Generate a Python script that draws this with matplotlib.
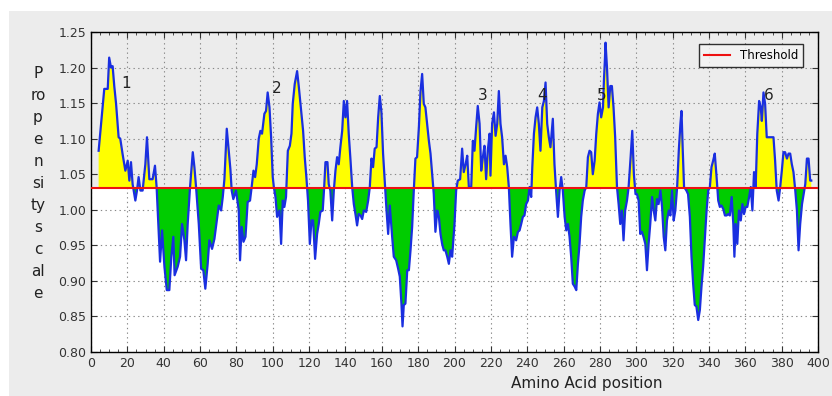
import numpy as np
import matplotlib
matplotlib.use("Agg")
import matplotlib.pyplot as plt
from matplotlib.patches import Rectangle
from matplotlib.ticker import MultipleLocator

position = [4.2, 5.5, 7.3, 9.2, 10, 11, 11.9, 12.8, 13.8, 15.2, 16.1, 17.4, 18.9, 20.2, 21.1, 22, 22.9, 24.4,
            25.3, 26.2, 27.2, 28.4, 29.9, 30.8, 32.1, 33.9, 35.2, 36.1, 37.2, 38, 39.1, 40.4, 41.7, 43.1,
            44.2, 45.3, 46, 47.7, 49, 50.1, 51.4, 52.3, 53.2, 54.5, 56, 56.9, 57.8, 59.3, 60.6, 61.8, 62.9,
            64.2, 65.1, 66.6, 67.9, 69.2, 70.3, 71.6, 72.5, 73.4, 74.7, 75.8, 76.7, 77.4, 78.3, 79.8, 81.3,
            82, 82.9, 83.9, 85, 86.2, 87.5, 88.4, 89.4, 90.3, 91.2, 92.3, 93.2, 94.1, 95.4, 96.3, 97.2, 98.2,
            99.1, 100, 100.6, 101.5, 102.4, 103.7, 104.6, 105.5, 106.4, 107.3, 108.3, 109.4, 110.3, 111,
            112.1, 113.4, 114.3, 115.6, 116.7, 117.6, 118.5, 119.4, 120.4, 121.3, 122.2, 123.3, 124.4, 125.3,
            126.2, 127.5, 128.3, 129, 130.1, 130.8, 131.7, 132.7, 133.6, 134.5, 135.4, 136.3, 137.2, 138.2,
            139.1, 140, 140.9, 141.8, 142.8, 143.7, 144.6, 145.5, 146.4, 147.3, 148.3, 149.2, 150.1, 151.4,
            152.5, 153.4, 154.3, 155.2, 156.1, 157.1, 158, 158.9, 159.8, 160.7, 161.7, 162.6, 163.5, 164.4,
            165.7, 166.6, 167.9, 169, 169.9, 170.8, 171.4, 172.1, 173, 174, 174.9, 175.8, 176.7, 177.6,
            178.5, 179.4, 180.4, 181.3, 182.2, 183.1, 184, 184.9, 185.9, 186.8, 187.7, 188.6, 189.5, 190.5,
            191.4, 192.3, 193.2, 194.1, 195, 196, 196.9, 197.8, 198.7, 200, 200.9, 201.8, 203.1, 204.2,
            205.1, 206.1, 207, 207.9, 209.2, 210.1, 211, 211.9, 212.8, 213.8, 214.7, 215.6, 216.5, 217.4,
            218.3, 219.3, 219.8, 220.7, 221.7, 222.6, 223.5, 224.4, 225.3, 226.2, 227.2, 228.1, 229, 229.9,
            230.8, 231.7, 232.7, 233.9, 234.9, 235.8, 236.7, 237.6, 238.5, 239.4, 240.4, 241.3, 242.2,
            242.8, 243.7, 244.6, 245.5, 246.4, 247.3, 248.3, 249.2, 250.1, 251, 251.9, 252.8, 254.1, 255,
            255.9, 256.9, 257.8, 258.7, 259.6, 260.6, 261.5, 262.4, 263.3, 264.2, 265.1, 266.1, 267, 267.9,
            268.8, 269.7, 270.6, 271.6, 272.5, 273.4, 274.3, 275.2, 276.1, 277.1, 278, 278.9, 279.8, 280.7,
            281.7, 282.2, 282.8, 283.1, 283.9, 284.8, 285.7, 286.6, 287.5, 288.4, 289.4, 290.3, 291.2,
            292.1, 293, 293.9, 294.9, 295.8, 296.9, 297.8, 298.7, 299.6, 300.4, 301.3, 302.2, 303.1, 304,
            305, 305.9, 306.8, 307.7, 308.7, 309.6, 310.5, 311.4, 312.3, 313.3, 314.2, 315.1, 316, 316.9,
            317.9, 318.8, 319.7, 320.6, 321.5, 322.5, 323.4, 324.3, 324.9, 325.6, 326.3, 327.6, 328.5,
            329.5, 330.4, 331.3, 332.2, 333.1, 334.1, 335, 335.9, 336.8, 337.7, 338.7, 339.6, 340.5, 341.4,
            342.3, 343.2, 344.2, 345.1, 346, 346.9, 347.9, 348.8, 349.7, 350.6, 351.5, 352.5, 353.4, 354,
            354.7, 355.6, 356.5, 357.5, 358.4, 359.3, 360.2, 361.1, 362.1, 363, 363.9, 364.8, 365.7, 366.6,
            367.6, 368.5, 369.1, 370, 370.9, 371.8, 372.7, 373.7, 374.6, 375.5, 376.4, 377.3, 378.3, 379.2,
            380.1, 381, 381.9, 382.9, 383.8, 384.7, 385.6, 386.5, 387.5, 388.4, 389.3, 390.2, 391.2, 392.1,
            393, 393.9, 394.8, 395.7, 396.3]

propensity = [1.083, 1.12, 1.17, 1.17, 1.214, 1.20, 1.202, 1.174, 1.149, 1.102, 1.10, 1.078, 1.055, 1.069,
              1.041, 1.067, 1.036, 1.013, 1.027, 1.046, 1.027, 1.027, 1.064, 1.102, 1.043, 1.043, 1.062,
              1.032, 0.971, 0.927, 0.971, 0.92, 0.887, 0.887, 0.934, 0.962, 0.908, 0.92, 0.934, 0.98, 0.957,
              0.929, 0.98, 1.032, 1.081, 1.06, 1.032, 0.98, 0.917, 0.915, 0.889, 0.924, 0.957, 0.945, 0.959,
              0.985, 1.006, 0.999, 1.018, 1.043, 1.114, 1.083, 1.057, 1.027, 1.015, 1.027, 0.999, 0.929,
              0.976, 0.955, 0.962, 1.011, 1.013, 1.032, 1.055, 1.046, 1.064, 1.10, 1.111, 1.107, 1.135,
              1.139, 1.165, 1.144, 1.102, 1.046, 1.032, 1.018, 0.99, 0.999, 0.952, 1.013, 1.004, 1.018,
              1.083, 1.09, 1.107, 1.149, 1.177, 1.195, 1.174, 1.139, 1.111, 1.074, 1.046, 1.013, 0.952,
              0.985, 0.985, 0.931, 0.966, 0.98, 0.997, 0.999, 1.032, 1.067, 1.067, 1.036, 1.027, 0.985,
              1.027, 1.055, 1.074, 1.064, 1.088, 1.111, 1.153, 1.13, 1.153, 1.107, 1.069, 1.032, 1.008,
              0.994, 0.978, 0.994, 0.992, 0.987, 0.999, 0.997, 1.013, 1.032, 1.072, 1.06, 1.086, 1.088,
              1.13, 1.16, 1.137, 1.079, 1.036, 0.999, 0.966, 1.006, 0.962, 0.934, 0.929, 0.917, 0.906,
              0.868, 0.836, 0.866, 0.868, 0.915, 0.915, 0.943, 0.976, 1.027, 1.072, 1.074, 1.116, 1.167,
              1.191, 1.149, 1.144, 1.121, 1.097, 1.079, 1.05, 1.022, 0.969, 0.999, 0.99, 0.966, 0.952,
              0.943, 0.943, 0.934, 0.924, 0.943, 0.934, 0.98, 1.027, 1.041, 1.043, 1.086, 1.053, 1.064,
              1.076, 1.032, 1.032, 1.097, 1.083, 1.116, 1.146, 1.121, 1.055, 1.074, 1.09, 1.043, 1.083,
              1.107, 1.048, 1.121, 1.137, 1.104, 1.121, 1.167, 1.121, 1.102, 1.064, 1.076, 1.06, 1.032,
              0.98, 0.934, 0.962, 0.957, 0.969, 0.971, 0.98, 0.99, 0.992, 1.008, 1.013, 1.032, 1.018, 1.06,
              1.107, 1.13, 1.144, 1.121, 1.083, 1.144, 1.153, 1.179, 1.121, 1.102, 1.088, 1.128, 1.064,
              1.027, 0.99, 1.027, 1.046, 1.027, 0.99, 0.971, 0.98, 0.962, 0.934, 0.896, 0.892, 0.887,
              0.924, 0.952, 0.99, 1.013, 1.027, 1.032, 1.074, 1.083, 1.081, 1.05, 1.069, 1.107, 1.135,
              1.151, 1.13, 1.144, 1.181, 1.214, 1.235, 1.20, 1.144, 1.174, 1.174, 1.144, 1.102, 1.032,
              1.008, 0.98, 0.999, 0.957, 0.999, 1.013, 1.032, 1.074, 1.111, 1.05, 1.022, 1.022, 1.013,
              0.966, 0.969, 0.962, 0.952, 0.915, 0.952, 0.98, 1.018, 0.999, 0.985, 1.015, 1.008, 1.027,
              1.004, 0.962, 0.943, 0.985, 0.999, 0.992, 1.027, 0.985, 0.999, 1.032, 1.083, 1.121, 1.139,
              1.083, 1.032, 1.027, 1.022, 0.99, 0.934, 0.896, 0.866, 0.864, 0.845, 0.859, 0.892, 0.92,
              0.957, 0.999, 1.027, 1.032, 1.06, 1.069, 1.079, 1.046, 1.013, 1.004, 1.006, 1.001, 0.992,
              0.992, 0.994, 0.992, 1.018, 0.98, 0.934, 0.98, 0.952, 0.999, 0.985, 1.008, 0.994, 1.004,
              1.004, 1.018, 1.032, 0.999, 1.053, 1.032, 1.107, 1.153, 1.144, 1.125, 1.165, 1.149, 1.102,
              1.102, 1.102, 1.102, 1.102, 1.069, 1.027, 1.013, 1.032, 1.055, 1.081, 1.081, 1.072, 1.079,
              1.079, 1.064, 1.053, 1.027, 0.999, 0.943, 0.98, 1.008, 1.022, 1.036, 1.072, 1.072, 1.041,
              1.041]

threshold = 1.03
peak_labels = ["1", "2", "3", "4", "5", "6"]
peak_label_x = [19.3, 102, 215.4, 248, 281, 373]
peak_label_y = [1.177, 1.170, 1.161, 1.161, 1.161, 1.161]
ylabel_chunks = ["P", "ro", "p", "e", "n", "si", "ty", "s", "c", "al", "e"]

x = np.array(position)
y = np.array(propensity)

fig = plt.figure(figsize=(8.32, 3.96), dpi=100)
fig.patch.set_facecolor("white")
fig.patches.append(Rectangle((9 / 832, 0), 1 - 9 / 832, 1 - 11 / 396, transform=fig.transFigure,
                             facecolor="#ececec", edgecolor="none", zorder=-10))

ax = fig.add_axes([91 / 832, 1 - 352 / 396, (818 - 91) / 832, (352 - 32) / 396])
ax.set_facecolor("white")
ax.axhspan(threshold, 1.25, color="#ececec", zorder=0, lw=0)

ax.fill_between(x, y, threshold, where=y >= threshold, interpolate=True, color="#ffff00", lw=0, zorder=2)
ax.fill_between(x, y, threshold, where=y <= threshold, interpolate=True, color="#00cc00", lw=0, zorder=2)
ax.plot(x, y, color="#1a2fe0", lw=1.6, zorder=3)
ax.axhline(threshold, color="#ee1111", lw=1.5, zorder=4, label="Threshold")

for lab, lx, ly in zip(peak_labels, peak_label_x, peak_label_y):
    ax.text(lx, ly, lab, fontsize=11, color="#222222", ha="center", va="center", zorder=5)

ax.set_xlim(0, 400)
ax.set_ylim(0.80, 1.25)
ax.xaxis.set_major_locator(MultipleLocator(20))
ax.xaxis.set_minor_locator(MultipleLocator(5))
ax.yaxis.set_major_locator(MultipleLocator(0.05))
ax.yaxis.set_major_formatter(matplotlib.ticker.FormatStrFormatter("%.2f"))
ax.tick_params(axis="both", which="both", direction="in", top=True, right=True,
               labelsize=9, colors="#333333")
ax.tick_params(which="major", length=4)
ax.tick_params(which="minor", length=2)
for s in ax.spines.values():
    s.set_color("black")
    s.set_linewidth(1.0)
ax.grid(True, which="major", linestyle=(0, (1.2, 3)), color="#888888", lw=0.8, zorder=1)
ax.set_axisbelow(True)

ax.set_xlabel("Amino Acid position", fontsize=11, color="#222222")
ax.xaxis.set_label_coords((587 - 91) / (818 - 91), -0.075)

fig.text(38 / 832, 1 - 66 / 396, "\n".join(ylabel_chunks), fontsize=11, color="#222222",
         ha="center", va="top", linespacing=1.58)

leg = ax.legend(loc="upper right", fontsize=8.5, frameon=True, fancybox=False,
                handlelength=2.2, borderpad=0.4, bbox_to_anchor=(0.987, 0.98))
leg.get_frame().set_edgecolor("black")
leg.get_frame().set_facecolor("#f4f4f4")
leg.get_frame().set_linewidth(1.0)

fig.savefig("out.png", dpi=100)
